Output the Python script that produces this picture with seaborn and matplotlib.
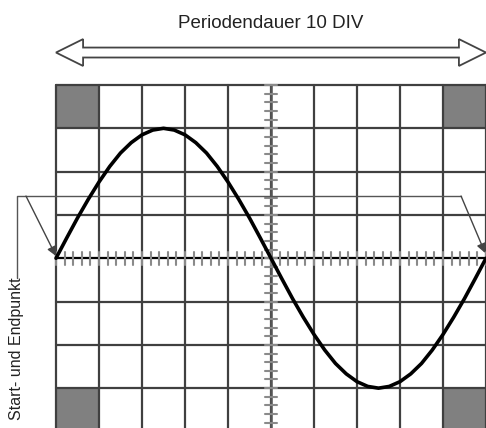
import matplotlib
matplotlib.use("Agg")
import matplotlib.pyplot as plt
import matplotlib.patches as mpatches
import seaborn as sns
import numpy as np
import pandas as pd

trace_x = [i * 0.25 for i in range(41)]
trace_y = [0.0, 0.47, 0.93, 1.36, 1.76, 2.12, 2.43, 2.67, 2.85, 2.96, 3.0,
           2.96, 2.85, 2.67, 2.43, 2.12, 1.76, 1.36, 0.93, 0.47, 0.0,
           -0.47, -0.93, -1.36, -1.76, -2.12, -2.43, -2.67, -2.85, -2.96, -3.0,
           -2.96, -2.85, -2.67, -2.43, -2.12, -1.76, -1.36, -0.93, -0.47, 0.0]

n_xdiv = 10
n_ydiv = 8
dark_cells = [(0, 3), (9, 3), (0, -4), (9, -4)]  # (x, y) lower-left corners
title = "Periodendauer 10 DIV"
side_label = "Start- und Endpunkt"

sns.set_style("white")
plt.rcParams['font.family'] = ['Liberation Sans', 'DejaVu Sans']

fig = plt.figure(figsize=(4.86, 4.28), dpi=100)
ax = fig.add_axes([0, 0, 1, 1])
ax.set_xlim(-56 / 43, 430 / 43)
ax.set_ylim(-3.92, 5.963)
ax.axis("off")

# dark corner cells
for cx, cy in dark_cells:
    ax.add_patch(mpatches.Rectangle((cx, cy), 1, 1, facecolor="#808080",
                                    edgecolor="none", zorder=1))

# graticule
grid_col = "#404040"
for i in range(n_xdiv + 1):
    ax.plot([i, i], [-n_ydiv / 2, n_ydiv / 2], color=grid_col, lw=1.6, zorder=2)
for j in range(n_ydiv + 1):
    y = j - n_ydiv / 2
    ax.plot([0, n_xdiv], [y, y], color=grid_col, lw=1.6, zorder=2)

# minor ticks on the centre axes
ax.plot([0, n_xdiv], [0, 0], color="black", lw=1.5, zorder=3)
ax.plot([5, 5], [-4, 4], color="#555555", lw=1.8, zorder=3)
for t in np.arange(0, n_xdiv + 0.01, 0.2):
    ax.plot([t, t], [-0.15, 0.15], color="#8a8a8a", lw=1.5, zorder=3)
for t in np.arange(-4, 4.01, 0.2):
    ax.plot([4.87, 5.13], [t, t], color="#8a8a8a", lw=1.5, zorder=3)

# signal
df = pd.DataFrame({"x": trace_x, "y": trace_y})
sns.lineplot(data=df, x="x", y="y", ax=ax, color="black", lw=2.6, zorder=5,
             sort=False, clip_on=False)

# hollow double arrow for the period
yc, sh, hh, hl = 4.75, 0.115, 0.31, 0.63
pts = [(0, yc), (hl, yc + hh), (hl, yc + sh), (n_xdiv - hl, yc + sh),
       (n_xdiv - hl, yc + hh), (n_xdiv, yc), (n_xdiv - hl, yc - hh),
       (n_xdiv - hl, yc - sh), (hl, yc - sh), (hl, yc - hh)]
ax.add_patch(mpatches.Polygon(pts, closed=True, facecolor="white",
                              edgecolor="#444444", lw=1.3, clip_on=False, zorder=4))
ax.text(5, 5.43, title, ha="center", va="center", fontsize=13.5, color="#222222")

# start/end annotation
lx, ly = -0.907, 1.436
ax.plot([lx, lx, 9.42], [-0.46, ly, ly], color="#555555", lw=1.0, zorder=4)
ax.annotate("", xy=(0, 0.05), xytext=(-0.698, ly),
            arrowprops=dict(arrowstyle="-|>", color="#444444", lw=1.0,
                            mutation_scale=14, shrinkA=0, shrinkB=0), zorder=6)
ax.annotate("", xy=(9.98, 0.12), xytext=(9.42, ly),
            arrowprops=dict(arrowstyle="-|>", color="#444444", lw=1.0,
                            mutation_scale=14, shrinkA=0, shrinkB=0), zorder=6)
ax.text(lx, -0.45, side_label, rotation=90, ha="center", va="top",
        fontsize=11.5, color="#222222")

plt.savefig("out.png", dpi=100)
plt.close()
